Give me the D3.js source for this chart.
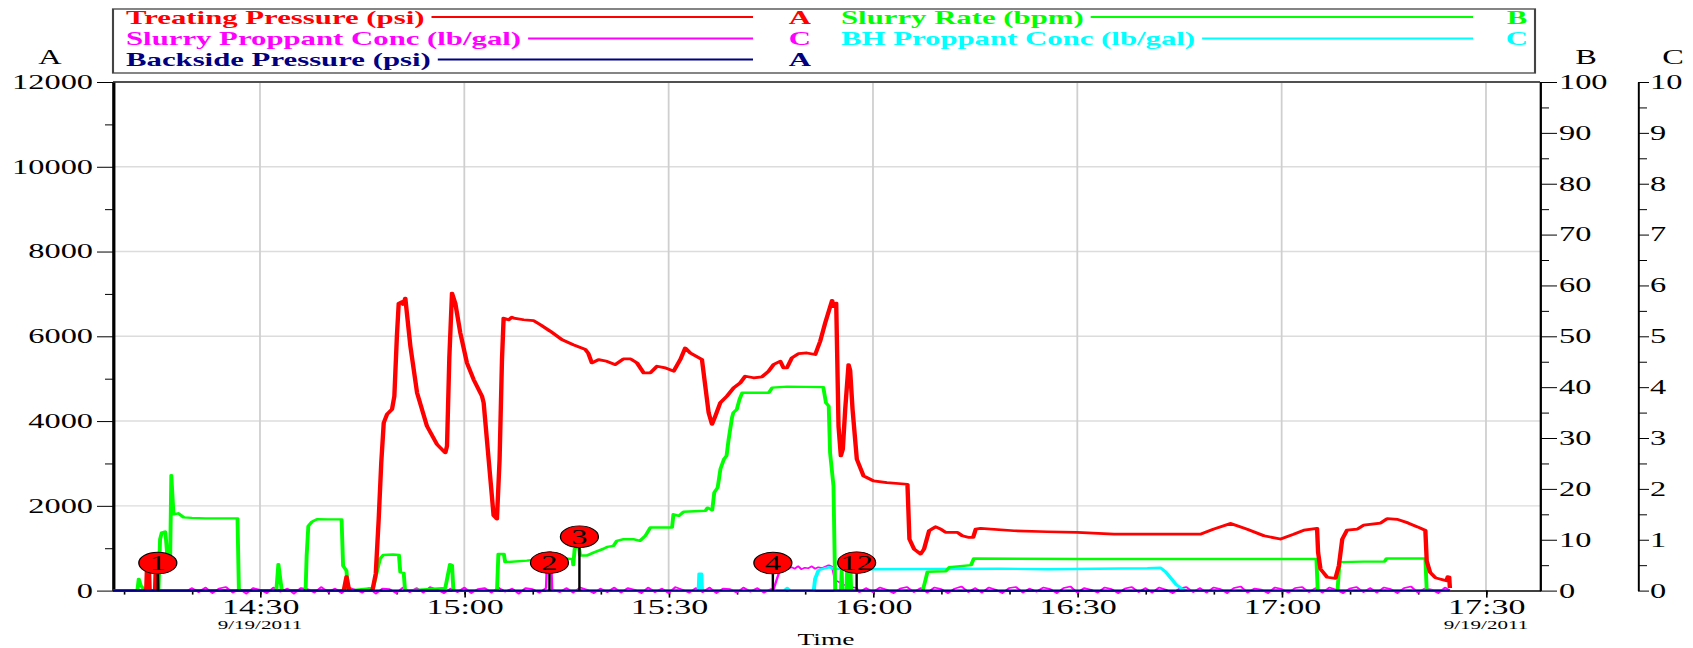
<!DOCTYPE html>
<html>
<head>
<meta charset="utf-8">
<title>Treatment Plot 9/19/2011</title>
<script src="https://cdn.jsdelivr.net/npm/d3@7"></script>
<style>
  body { margin: 0; background: #fff; }
  svg { display: block; font-family: "Liberation Serif", "Times New Roman", serif; }
  .axis line { stroke: #000; }
  .axis text { fill: #000; }
  .series { fill: none; stroke-linejoin: round; }
</style>
</head>
<body>
<div id="chart"></div>
<script>
// ---- data (time = minutes after 14:00 on 9/19/2011) ----
var treatingPressure = [
  [8.4,0],[13.3,0],[13.4,500],[13.7,500],[13.8,0],[14.6,0],[14.7,550],[14.9,550],[15.0,0],
  [42.3,0],[42.7,330],[43.1,0],[46.5,0],[47.0,400],[47.43,1690],[47.8,3000],[48.17,3960],[48.66,4160],
  [49.39,4280],[49.73,4590],[50.1,6000],[50.37,6780],[50.86,6820],[51.0,6750],[51.34,6900],[51.6,6500],
  [52.08,5770],[53.06,4670],[54.52,3880],[55.99,3450],[57.21,3250],[57.46,3410],[57.8,5500],[58.19,7020],
  [58.68,6780],[59.41,6080],[60.39,5370],[61.37,4980],[62.59,4590],[62.84,4430],[63.57,3100],[64.3,1770],
  [64.79,1690],[65.18,3100],[65.53,5450],[65.77,6430],[66.5,6390],[67.0,6450],[67.24,6430],[68.7,6390],
  [70.17,6370],[71.15,6275],[72.62,6120],[74.33,5920],[76.04,5800],[77.75,5690],[78.2,5600],[78.73,5370],
  [79.71,5450],[80.93,5410],[82.15,5330],[83.37,5470],[84.4,5467],[85.35,5373],[86.33,5137],[87.31,5137],
  [88.29,5294],[89.51,5255],[90.73,5176],[91.71,5451],[92.44,5725],[93.18,5608],[94.89,5451],[95.38,4824],
  [95.87,4196],[96.36,3922],[96.85,4118],[97.58,4431],[98.56,4588],[99.54,4784],[100.51,4902],[101.25,5059],
  [102.47,5020],[103.69,5043],[104.67,5176],[105.4,5333],[106.38,5412],[106.87,5255],[107.36,5255],
  [108.09,5490],[109.07,5592],[110.29,5608],[111.52,5569],[112.25,5882],[112.98,6314],[113.72,6706],
  [114.0,6850],[114.21,6700],[114.6,6784],[114.94,3882],[115.28,3176],[115.57,3333],[115.92,4275],
  [116.41,5333],[116.65,5200],[117.0,4275],[117.63,3098],[118.61,2706],[120.07,2588],[122.03,2549],
  [125.06,2510],[125.35,1216],[126.04,980],[127.0,863],[127.5,980],[128.24,1412],[129.2,1506],[129.95,1451],
  [130.68,1373],[132.4,1373],[133.1,1294],[134.1,1255],[134.7,1255],[135.1,1451],[135.8,1467],[140.7,1412],
  [145.6,1388],[150.0,1373],[155.4,1333],[160.3,1333],[168.1,1333],[170.0,1451],[172.5,1584],[174.9,1451],
  [177.4,1294],[179.8,1216],[181.8,1333],[183.3,1427],[185.2,1467],[185.35,900],[185.7,510],[186.7,314],
  [187.9,290],[188.4,588],[188.9,1216],[189.6,1427],[191.1,1451],[192.05,1545],[194.5,1592],[195.5,1700],
  [197.0,1680],[198.5,1600],[200.0,1500],[201.1,1420],[201.3,700],[201.8,430],[202.6,300],[203.5,260],
  [204.2,230],[204.4,330],[204.6,320],[204.7,60]
];

var slurryRate = [
  [8.4,0],[12.0,0],[12.2,2.3],[12.5,1.0],[12.8,0.5],[13.0,0],[15.1,0],[15.33,10.1],[15.58,11.4],[16.07,11.6],
  [16.2,10.1],[16.5,5],[16.8,5],[16.98,22.7],[17.3,15.0],[18.0,15.2],[18.8,14.4],[20,14.3],[22,14.2],
  [24,14.2],[26.7,14.2],[26.9,0],[32.4,0],[32.7,5.2],[33.2,0],[36.7,0],[36.85,6.9],[37.1,12.7],[37.6,13.5],
  [38.4,14.05],[40,14.0],[41.98,14.0],[42.2,4.9],[42.7,3.9],[42.9,0],[46.6,0.5],[47.6,6.2],[48.1,7.0],
  [49.5,7.1],[50.4,7.0],[50.6,3.6],[51.1,3.5],[51.3,0],[57.2,0.5],[57.9,5.2],[58.2,5.0],[58.4,0],[64.8,0],
  [65.0,7.2],[65.8,7.2],[66.0,5.6],[69.2,5.9],[71.1,6.2],[73.6,6.5],[75.9,6.2],[76.0,5.0],[76.2,8.2],
  [76.6,8.8],[76.8,8.8],[77.0,6.9],[78.0,6.9],[79.0,7.5],[80.4,8.2],[81.0,8.6],[81.9,8.8],[82.4,9.8],
  [83.4,10.1],[84.8,10.1],[85.8,9.8],[86.6,10.8],[87.3,12.4],[90.5,12.4],[90.7,15.0],[91.5,14.7],[92.2,15.5],
  [95.4,15.7],[95.7,16.3],[96.4,15.8],[96.7,19.3],[97.2,20.3],[97.6,23.9],[98.1,25.8],[98.5,26.5],[98.8,29.7],
  [99.3,34.0],[99.5,35.0],[100.0,35.6],[100.4,37.6],[100.8,38.9],[104.7,38.9],[105.2,39.9],[107.4,40.1],
  [112.7,40.0],[113.1,36.9],[113.5,36.3],[113.7,27.1],[114.2,20.6],[114.45,0],[115.3,0],[115.4,3.9],
  [115.5,0],[116.1,0],[116.2,3.9],[116.3,0],[116.6,0],[116.7,3.9],[116.8,0],[127.3,0],[127.75,2.3],
  [128.0,3.7],[130.7,3.8],[131.2,4.6],[134.4,5.0],[134.8,6.3],[150,6.2],[170,6.2],[185.1,6.2],[185.3,0],
  [188.2,0],[188.5,5.6],[192,5.7],[195.1,5.7],[195.4,6.3],[201.1,6.3],[201.3,0],[204.7,0]
];

var slurryConc = [
  [19.4,0],[20,0.05],[21,-0.03],[22,0.06],[23,-0.05],[24,0.04],[25,0.07],[26,-0.04],[27,0.03],[28,-0.06],
  [29,0.05],[30,0.02],[31,-0.05],[32,0.06],[33,-0.02],[34,0.04],[35,-0.06],[36,0.05],[37,0.03],[38,-0.04],
  [39,0.07],[40,-0.03],[41,0.04],[42,-0.05],[43,0.06],[44,0.02],[45,-0.04],[46,0.05],[47,-0.06],[48,0.04],
  [49,0.03],[50,-0.05],[51,0.06],[52,-0.03],[53,0.05],[54,-0.04],[55,0.07],[56,0.02],[57,-0.05],[58,0.04],
  [59,-0.03],[60,0.06],[61,-0.05],[62,0.03],[63,0.05],[64,-0.04],[65,0.06],[66,-0.02],[67,0.04],[68,-0.06],
  [69,0.05],[70,0.03],[71,-0.04],[72.0,0.05],[72.2,0.75],[72.7,0.76],[72.9,0.02],[74,-0.03],[75,0.05],
  [76,-0.04],[77,0.06],[78,0.02],[79,-0.05],[80,0.04],[81,-0.03],[82,0.06],[83,-0.04],[84,0.05],[85,0.02],
  [86,-0.05],[87,0.06],[88,-0.03],[89,0.04],[90,-0.05],[91,0.07],[92,0.02],[93,-0.04],[94,0.05],[95,-0.03],
  [96,0.06],[97,-0.05],[98,0.04],[99,0.03],[100,-0.04],[101,0.06],[102,-0.02],[103,0.05],[104,-0.04],
  [105,0.03],[105.4,0.02],[105.9,0.23],[106.4,0.43],[107,0.47],[107.5,0.42],[108,0.46],[108.5,0.43],
  [109,0.48],[109.5,0.42],[110,0.45],[110.5,0.44],[111,0.48],[111.5,0.43],[112,0.46],[112.5,0.44],
  [113,0.47],[113.5,0.5],[114,0.47],[114.45,0.2],[115,0.17],[115.5,0.12],[116.2,0.1],[116.9,0.07],
  [117.6,0.05],[118,-0.03],[119,0.05],[120,-0.03],[121,0.06],[122,0.02],[123,-0.05],[124,0.04],[125,0.07],
  [126,-0.03],[127,0.05],[128,-0.04],[129,0.06],[130,0.03],[131,-0.05],[132,0.04],[133,0.08],[134,-0.03],
  [135,0.05],[136,-0.04],[137,0.06],[138,0.02],[139,-0.05],[140,0.05],[141,0.07],[142,-0.04],[143,0.04],
  [144,-0.02],[145,0.06],[146,0.03],[147,-0.05],[148,0.05],[149,0.08],[150,-0.04],[151,0.05],[152,0.02],
  [153,-0.04],[154,0.06],[155,0.03],[156,-0.05],[157,0.04],[158,0.07],[159,-0.03],[160,0.05],[161,-0.04],
  [162,0.06],[163,0.02],[164,-0.05],[165,0.04],[166,0.07],[167,-0.03],[168,0.05],[169,-0.04],[170,0.06],
  [171,0.03],[172,-0.05],[173,0.05],[174,0.08],[175,-0.04],[176,0.04],[177,0.02],[178,-0.05],[179,0.06],
  [180,0.03],[181,-0.04],[182,0.05],[183,0.07],[184,-0.03],[185,0.05],[186,-0.04],[187,0.06],[188,0.02],
  [189,-0.05],[190,0.04],[191,0.07],[192,-0.03],[193,0.05],[194,-0.04],[195,0.06],[196,0.03],[197,-0.05],
  [198,0.05],[199,0.08],[200,-0.04],[201,0.04],[202,0.02],[203,-0.05],[204,0.06],[204.7,0]
];

var bhConc = [
  [72,0],[94.4,0],[94.5,0.33],[94.8,0.33],[94.9,0],[107.0,0],[107.4,0.05],[107.8,0],[111.3,0],[111.5,0.23],
  [112.0,0.4],[112.7,0.43],[113.7,0.46],[114.2,0.43],[119.1,0.42],[138.7,0.43],[145.6,0.42],[160.3,0.44],
  [162.2,0.45],[162.96,0.37],[163.7,0.25],[164.5,0.12],[165.3,0.04],[166,0],[204.7,0]
];

var backsidePressure = [[8.4,0],[204.7,0]];

var markerLabels = ["1","2","3","4","12"];
var markerTimes  = [15.0, 72.5, 76.9, 105.3, 117.6];
var markerLevels = [650, 660, 1270, 650, 660];   // psi, on axis A

var legendNames = ["Treating Pressure (psi)","Slurry Rate (bpm)","Slurry Proppant Conc (lb/gal)",
                   "BH Proppant Conc (lb/gal)","Backside Pressure (psi)"];
var legendAxes  = ["A","B","C","C","A"];
var ticksA = [0,2000,4000,6000,8000,10000,12000];
var ticksB = [0,10,20,30,40,50,60,70,80,90,100];
var ticksC = [0,1,2,3,4,5,6,7,8,9,10];

var colors = ["#ff0000","#00ff00","#ff00ff","#00ffff","#000080"];

// ---- layout: the original plot is stretched sideways, so draw in a narrow viewBox ----
var k = 1.62;
var sx = function(v) { return v / k; };
var width = 1693, height = 648;
var plotL = sx(113), plotR = sx(1540), axisCX = sx(1638), plotT = 82, plotB = 590.6;

var base = new Date(2011, 8, 19, 14, 0, 0);
function toDate(m) { return new Date(base.getTime() + m * 60000); }

var svg = d3.select("#chart").append("svg")
    .attr("width", width)
    .attr("height", height)
    .attr("viewBox", "0 0 " + (width / k) + " " + height)
    .attr("preserveAspectRatio", "none");

var x = d3.scaleTime().domain([toDate(8.42), toDate(217.93)]).range([plotL, plotR]);
var yA = d3.scaleLinear().domain([0, 12000]).range([plotB, plotT]);
var yB = d3.scaleLinear().domain([0, 100]).range([plotB, plotT]);
var yC = d3.scaleLinear().domain([0, 10]).range([plotB, plotT]);

// grid
var grid = svg.append("g").attr("class", "grid");
grid.selectAll(".h").data(ticksA.slice(1, -1)).enter().append("line")
    .attr("x1", plotL).attr("x2", plotR)
    .attr("y1", function(d) { return yA(d); }).attr("y2", function(d) { return yA(d); })
    .style("stroke", "#dcdcdc").style("stroke-width", 1.4);
grid.selectAll(".v").data(d3.timeMinute.every(30).range(toDate(30), toDate(211))).enter().append("line")
    .attr("x1", function(d) { return x(d); }).attr("x2", function(d) { return x(d); })
    .attr("y1", plotT).attr("y2", plotB)
    .style("stroke", "#cfcfcf").style("stroke-width", 1.1);

// top border
svg.append("line").attr("x1", plotL).attr("x2", plotR).attr("y1", plotT).attr("y2", plotT)
    .attr("stroke", "#505050").attr("stroke-width", 2);

// axes
function styleAxis(g, fs, domW) {
  g.attr("font-family", null).attr("font-size", fs).attr("class", "axis");
  g.select(".domain").attr("stroke", "#000").attr("stroke-width", domW);
}
function minor(g) { g.select(".domain").remove(); g.selectAll("line").attr("stroke", "#000"); }

var gA = svg.append("g").attr("transform", "translate(" + plotL + ",0)")
    .call(d3.axisLeft(yA).tickValues(ticksA).tickSize(sx(16)).tickSizeOuter(0).tickPadding(sx(4)).tickFormat(d3.format("d")));
styleAxis(gA, 20, 2);
svg.append("g").attr("transform", "translate(" + plotL + ",0)")
    .call(d3.axisLeft(yA).tickValues(d3.range(1000, 12000, 2000)).tickSize(sx(8)).tickFormat(""))
    .call(minor);

var gB = svg.append("g").attr("transform", "translate(" + plotR + ",0)")
    .call(d3.axisRight(yB).tickValues(ticksB).tickSize(sx(17)).tickSizeOuter(0).tickPadding(sx(2)));
styleAxis(gB, 20, 1.4);
svg.append("g").attr("transform", "translate(" + plotR + ",0)")
    .call(d3.axisRight(yB).tickValues(d3.range(5, 100, 10)).tickSize(sx(9)).tickFormat(""))
    .call(minor);

var gC = svg.append("g").attr("transform", "translate(" + axisCX + ",0)")
    .call(d3.axisRight(yC).tickValues(ticksC).tickSize(sx(11)).tickSizeOuter(0).tickPadding(sx(1)));
styleAxis(gC, 20, 1.2);
svg.append("g").attr("transform", "translate(" + axisCX + ",0)")
    .call(d3.axisRight(yC).tickValues(d3.range(0.5, 10, 1)).tickSize(sx(9)).tickFormat(""))
    .call(minor);

var gX = svg.append("g").attr("transform", "translate(0," + plotB + ")")
    .call(d3.axisBottom(x).ticks(d3.timeMinute.every(30)).tickFormat(d3.timeFormat("%H:%M"))
      .tickSize(7).tickSizeOuter(0).tickPadding(2));
styleAxis(gX, 21, 1.5);
svg.append("g").attr("transform", "translate(0," + plotB + ")")
    .call(d3.axisBottom(x).ticks(d3.timeMinute.every(10)).tickSize(4).tickFormat(""))
    .call(minor);

// series (drawn over the axes, as in the original)
function drawSeries(data, yScale, color, w) {
  var line = d3.line()
      .x(function(d) { return x(toDate(d[0])); })
      .y(function(d) { return yScale(d[1]); });
  svg.append("path").datum(data).attr("class", "series")
      .attr("d", line).attr("stroke", color).attr("stroke-width", w);
}
drawSeries(slurryConc, yC, colors[2], 1.5);
drawSeries(bhConc, yC, colors[3], 2.4);
drawSeries(slurryRate, yB, colors[1], 2.4);
drawSeries(treatingPressure, yA, colors[0], 2.7);
drawSeries(backsidePressure, yA, colors[4], 2.2);

// date labels and axis titles
[toDate(30), toDate(210)].forEach(function(d) {
  svg.append("text").attr("x", x(d)).attr("y", 629).attr("text-anchor", "middle")
      .attr("font-size", 13).text("9/19/2011");
});
svg.append("text").attr("x", sx(826)).attr("y", 645).attr("text-anchor", "middle")
    .attr("font-size", 17).text("Time");
svg.append("text").attr("x", sx(50)).attr("y", 64).attr("text-anchor", "middle").attr("font-size", 20).text("A");
svg.append("text").attr("x", sx(1586)).attr("y", 64).attr("text-anchor", "middle").attr("font-size", 20).text("B");
svg.append("text").attr("x", sx(1673)).attr("y", 64).attr("text-anchor", "middle").attr("font-size", 20).text("C");

// markers
markerLabels.forEach(function(lbl, i) {
  var mx = x(toDate(markerTimes[i])), my = yA(markerLevels[i]);
  svg.append("line").attr("x1", mx).attr("x2", mx).attr("y1", plotB).attr("y2", my)
      .attr("stroke", "#000").attr("stroke-width", 1.5);
  svg.append("ellipse").attr("cx", mx).attr("cy", my).attr("rx", sx(19)).attr("ry", 10.8)
      .attr("fill", "#ff0000").attr("stroke", "#000").attr("stroke-width", 0.8);
  svg.append("text").attr("x", mx).attr("y", my).attr("dy", "0.35em").attr("text-anchor", "middle")
      .attr("font-size", 20).text(lbl);
});

// legend
svg.append("rect").attr("x", sx(113)).attr("y", 9).attr("width", sx(1535 - 113)).attr("height", 64)
    .attr("fill", "#fff").attr("stroke", "#444").attr("stroke-width", 1.3);
var slots = [
  {col: 0, row: 0}, {col: 1, row: 0}, {col: 0, row: 1}, {col: 1, row: 1}, {col: 0, row: 2}
];
var colText = [sx(126), sx(841)], colLineEnd = [sx(753), sx(1473)], colLetter = [sx(800), sx(1517)];
var rowBase = [24, 45.5, 66.5];
legendNames.forEach(function(name, i) {
  var s = slots[i];
  var t = svg.append("text").attr("x", colText[s.col]).attr("y", rowBase[s.row])
      .attr("font-size", 19).attr("font-weight", "bold").attr("fill", colors[i]).text(name);
  var tw = t.node().getComputedTextLength();
  svg.append("line").attr("x1", colText[s.col] + tw + sx(7)).attr("x2", colLineEnd[s.col])
      .attr("y1", rowBase[s.row] - 7).attr("y2", rowBase[s.row] - 7)
      .attr("stroke", colors[i]).attr("stroke-width", 1.8);
  svg.append("text").attr("x", colLetter[s.col]).attr("y", rowBase[s.row]).attr("text-anchor", "middle")
      .attr("font-size", 19).attr("font-weight", "bold").attr("fill", colors[i]).text(legendAxes[i]);
});
</script>
</body>
</html>
